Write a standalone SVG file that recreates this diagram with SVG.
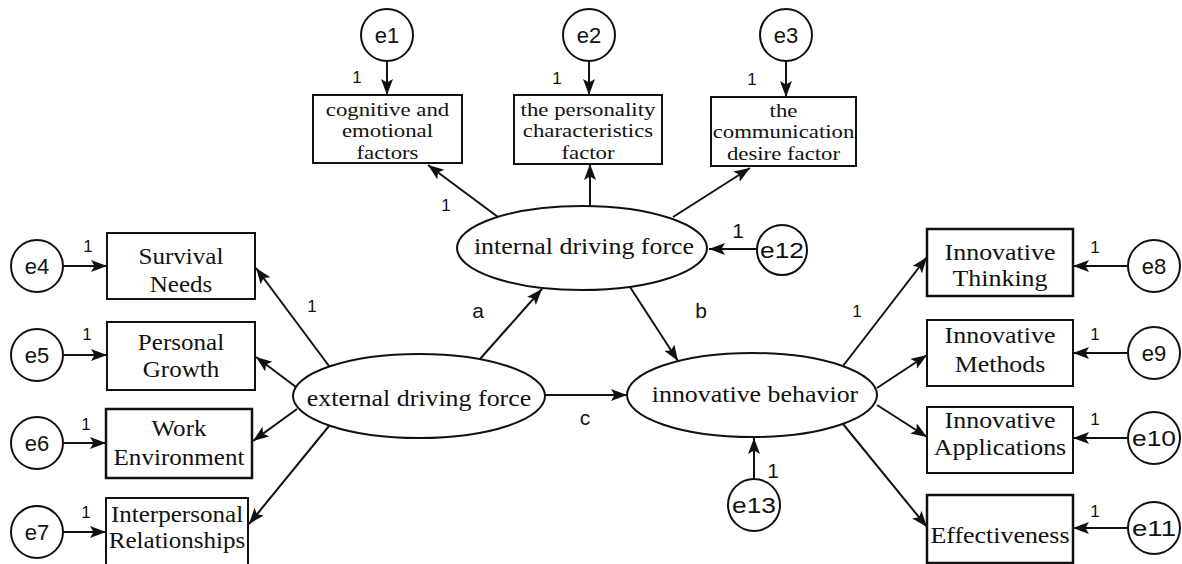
<svg xmlns="http://www.w3.org/2000/svg" width="1182" height="564" viewBox="0 0 1182 564">
<style>
.bx{fill:#fff;stroke:#111;stroke-width:2}
.el{fill:#fff;stroke:#111;stroke-width:2}
.ln{stroke:#111;stroke-width:2;fill:none;marker-end:url(#ah)}
.ser{font-family:"Liberation Serif","Times New Roman",serif;fill:#111;text-anchor:middle}
.sans{font-family:"Liberation Sans",Arial,sans-serif;fill:#111;text-anchor:middle}
.t19{font-size:19px}
.t23{font-size:23px}
.t24{font-size:24px}
.e{font-size:22px}
.one{font-size:17px}
.lab{font-size:21px}
</style>
<defs>
<marker id="ah" markerUnits="userSpaceOnUse" markerWidth="17" markerHeight="13" refX="16" refY="6" orient="auto">
<path d="M0,0 L16,6 L0,12 L3.5,6 z" fill="#111"/>
</marker>
</defs>
<rect width="1182" height="564" fill="#fff"/>
<g id="connectors">
<line class="ln" x1="387" y1="61" x2="387" y2="95"/>
<line class="ln" x1="589" y1="61" x2="589" y2="95"/>
<line class="ln" x1="786" y1="61" x2="786" y2="97"/>
<line class="ln" x1="498" y1="217" x2="428" y2="165"/>
<line class="ln" x1="590" y1="206" x2="590" y2="164"/>
<line class="ln" x1="673" y1="217" x2="750" y2="168"/>
<line class="ln" x1="757" y1="249" x2="709" y2="249"/>
<line class="ln" x1="754" y1="479" x2="754" y2="438"/>
<line class="ln" x1="480" y1="359" x2="542" y2="289"/>
<line class="ln" x1="630" y1="287" x2="678" y2="361"/>
<line class="ln" x1="545" y1="395" x2="627" y2="395"/>
<line class="ln" x1="63" y1="266" x2="107" y2="266"/>
<line class="ln" x1="63" y1="355" x2="107" y2="355"/>
<line class="ln" x1="63" y1="443" x2="106" y2="443"/>
<line class="ln" x1="63" y1="532" x2="106" y2="532"/>
<line class="ln" x1="329" y1="366" x2="256" y2="268"/>
<line class="ln" x1="296" y1="387" x2="256" y2="357"/>
<line class="ln" x1="297" y1="409" x2="253" y2="441"/>
<line class="ln" x1="329" y1="426" x2="249" y2="524"/>
<line class="ln" x1="843" y1="366" x2="927" y2="257"/>
<line class="ln" x1="877" y1="388" x2="927" y2="355"/>
<line class="ln" x1="877" y1="405" x2="927" y2="437"/>
<line class="ln" x1="843" y1="424" x2="927" y2="527"/>
<line class="ln" x1="1128" y1="266" x2="1073" y2="266"/>
<line class="ln" x1="1128" y1="353" x2="1073" y2="353"/>
<line class="ln" x1="1128" y1="438" x2="1073" y2="438"/>
<line class="ln" x1="1128" y1="528" x2="1073" y2="528"/>
</g>
<g id="labels">
<text class="sans one" x="357" y="83">1</text>
<text class="sans one" x="557" y="84">1</text>
<text class="sans one" x="752" y="85">1</text>
<text class="sans one" x="446" y="211">1</text>
<text class="sans lab" x="738" y="238">1</text>
<text class="sans lab" x="773" y="478">1</text>
<text class="sans one" x="88" y="252">1</text>
<text class="sans one" x="87" y="340">1</text>
<text class="sans one" x="86" y="430">1</text>
<text class="sans one" x="86" y="518">1</text>
<text class="sans one" x="312" y="312">1</text>
<text class="sans one" x="1095" y="253">1</text>
<text class="sans one" x="1095" y="340">1</text>
<text class="sans one" x="1095" y="425">1</text>
<text class="sans one" x="1095" y="517">1</text>
<text class="sans one" x="857" y="317">1</text>
<text class="sans lab" x="478" y="318">a</text>
<text class="sans lab" x="701" y="318">b</text>
<text class="sans lab" x="585" y="425">c</text>
</g>
<g id="e1"><circle cx="387" cy="35" r="26" class="el"/><text class="sans e" x="387" y="43">e1</text></g>
<g id="e2"><circle cx="589" cy="35" r="26" class="el"/><text class="sans e" x="589" y="43">e2</text></g>
<g id="e3"><circle cx="786" cy="35" r="26" class="el"/><text class="sans e" x="786" y="43">e3</text></g>
<g id="e4"><circle cx="37" cy="266" r="26" class="el"/><text class="sans e" x="37" y="274">e4</text></g>
<g id="e5"><circle cx="37" cy="355" r="26" class="el"/><text class="sans e" x="37" y="363">e5</text></g>
<g id="e6"><circle cx="37" cy="443" r="26" class="el"/><text class="sans e" x="37" y="451">e6</text></g>
<g id="e7"><circle cx="37" cy="532" r="26" class="el"/><text class="sans e" x="37" y="540">e7</text></g>
<g id="e8"><circle cx="1154" cy="266" r="26" class="el"/><text class="sans e" x="1154" y="274">e8</text></g>
<g id="e9"><circle cx="1154" cy="353" r="26" class="el"/><text class="sans e" x="1154" y="361">e9</text></g>
<g id="e10"><circle cx="1154" cy="438" r="26" class="el"/><text class="sans e" x="1154" y="446" textLength="44" lengthAdjust="spacingAndGlyphs">e10</text></g>
<g id="e11"><circle cx="1154" cy="528" r="26" class="el"/><text class="sans e" x="1154" y="536" textLength="44" lengthAdjust="spacingAndGlyphs">e11</text></g>
<g id="e12"><circle cx="782" cy="250" r="25" class="el"/><text class="sans e" x="782" y="258" textLength="44" lengthAdjust="spacingAndGlyphs">e12</text></g>
<g id="e13"><circle cx="754" cy="505" r="26" class="el"/><text class="sans e" x="754" y="513" textLength="44" lengthAdjust="spacingAndGlyphs">e13</text></g>
<g id="cognitive"><rect class="bx" x="313" y="95" width="149" height="68"/><g transform="matrix(1.2 0 0 1 -77.5 0)"><text class="ser t19" x="387.5" y="116">cognitive and</text><text class="ser t19" x="387.5" y="137.5">emotional</text><text class="ser t19" x="387.5" y="159">factors</text></g></g>
<g id="personality"><rect class="bx" x="514" y="95" width="148" height="69"/><g transform="matrix(1.2 0 0 1 -117.6 0)"><text class="ser t19" x="588" y="116">the personality</text><text class="ser t19" x="588" y="137.5">characteristics</text><text class="ser t19" x="588" y="159">factor</text></g></g>
<g id="communication"><rect class="bx" x="711" y="97" width="145" height="69"/><g transform="matrix(1.2 0 0 1 -156.7 0)"><text class="ser t19" x="783.5" y="117">the</text><text class="ser t19" x="783.5" y="138.5">communication</text><text class="ser t19" x="783.5" y="160">desire factor</text></g></g>
<g id="survival"><rect class="bx" x="107" y="233" width="148" height="66"/><g transform="matrix(1.09 0 0 1 -16.29 0)"><text class="ser t23" x="181" y="264">Survival</text><text class="ser t23" x="181" y="292">Needs</text></g></g>
<g id="growth"><rect class="bx" x="107" y="322" width="148" height="68"/><g transform="matrix(1.09 0 0 1 -16.29 0)"><text class="ser t23" x="181" y="350">Personal</text><text class="ser t23" x="181" y="377">Growth</text></g></g>
<g id="work"><rect class="bx" x="106" y="409" width="146" height="69" style="stroke-width:2.5"/><g transform="matrix(1.09 0 0 1 -16.11 0)"><text class="ser t23" x="179" y="436">Work</text><text class="ser t23" x="179" y="465">Environment</text></g></g>
<g id="interpersonal"><rect class="bx" x="106" y="498" width="142" height="70"/><g transform="matrix(1.09 0 0 1 -15.93 0)"><text class="ser t23" x="177" y="522">Interpersonal</text><text class="ser t23" x="177" y="548">Relationships</text></g></g>
<g id="thinking"><rect class="bx" x="927" y="229" width="146" height="67" style="stroke-width:2.5"/><g transform="matrix(1.08 0 0 1 -80 0)"><text class="ser t24" x="1000" y="260">Innovative</text><text class="ser t24" x="1000" y="286">Thinking</text></g></g>
<g id="methods"><rect class="bx" x="927" y="320" width="146" height="66"/><g transform="matrix(1.08 0 0 1 -80 0)"><text class="ser t24" x="1000" y="343">Innovative</text><text class="ser t24" x="1000" y="372">Methods</text></g></g>
<g id="applications"><rect class="bx" x="927" y="407" width="146" height="66"/><g transform="matrix(1.08 0 0 1 -80 0)"><text class="ser t24" x="1000" y="428">Innovative</text><text class="ser t24" x="1000" y="455">Applications</text></g></g>
<g id="effectiveness"><rect class="bx" x="927" y="495" width="146" height="68" style="stroke-width:2.5"/><g transform="matrix(1.08 0 0 1 -80 0)"><text class="ser t24" x="1000" y="543">Effectiveness</text></g></g>
<g id="internal"><ellipse class="el" cx="582" cy="248" rx="125" ry="42"/><g transform="matrix(1.08 0 0 1 -46.72 0)"><text class="ser t24" x="584" y="254">internal driving force</text></g></g>
<g id="external"><ellipse class="el" cx="419" cy="396" rx="126" ry="42"/><g transform="matrix(1.08 0 0 1 -33.52 0)"><text class="ser t24" x="419" y="406">external driving force</text></g></g>
<g id="innovative"><ellipse class="el" cx="752" cy="395" rx="125" ry="42"/><g transform="matrix(1.08 0 0 1 -60.4 0)"><text class="ser t24" x="755" y="402">innovative behavior</text></g></g>
</svg>
